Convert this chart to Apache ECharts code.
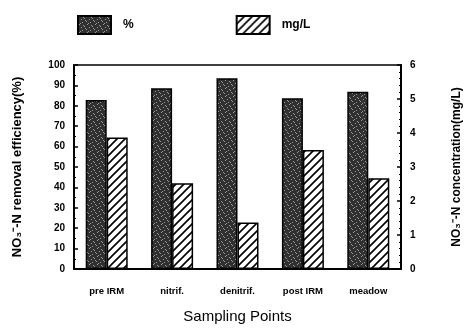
<!DOCTYPE html>
<html>
<head>
<meta charset="utf-8">
<title>NO3-N removal</title>
<script src="https://cdn.jsdelivr.net/npm/echarts@6/dist/echarts.min.js"></script>
<style>
  html, body { margin: 0; padding: 0; background: #fff; }
  #main { width: 471px; height: 333px; }
</style>
</head>
<body>
<div id="main"></div>
<script>
// data
var points = ['pre IRM', 'nitrif.', 'denitrif.', 'post IRM', 'meadow'];
var efficiency = [82.8, 88.6, 93.5, 83.7, 86.9];   // %
var concentration = [3.87, 2.52, 1.37, 3.5, 2.67]; // mg/L
var leftTicks = { min: 0, max: 100, interval: 10 };
var rightTicks = { min: 0, max: 6, interval: 1 };

// stippled dark fill
function stipple() {
  var c = document.createElement('canvas');
  c.width = 8; c.height = 8;
  var g = c.getContext('2d');
  g.fillStyle = '#303030';
  g.fillRect(0, 0, 8, 8);
  g.fillStyle = '#9a9a9a';
  var dots = [[1,0],[5,1],[3,3],[7,4],[0,5],[4,6],[2,7],[6,2]];
  dots.forEach(function (d) { g.fillRect(d[0], d[1], 1, 1); });
  return c;
}
// diagonal hatch fill
function hatch() {
  var c = document.createElement('canvas');
  c.width = 8; c.height = 8;
  var g = c.getContext('2d');
  g.fillStyle = '#fff';
  g.fillRect(0, 0, 8, 8);
  g.strokeStyle = '#000';
  g.lineWidth = 1.6;
  g.beginPath();
  g.moveTo(-2, 10); g.lineTo(10, -2);
  g.moveTo(-2, 2); g.lineTo(2, -2);
  g.moveTo(6, 10); g.lineTo(10, 6);
  g.stroke();
  return c;
}

var font = 'Liberation Sans';
var myChart = echarts.init(document.getElementById('main'));

var option = {
  animation: false,
  textStyle: { fontFamily: font, color: '#000' },
  grid: {
    left: 74, right: 69, top: 65, bottom: 64,
    show: true, borderColor: '#000', borderWidth: 1.5
  },
  legend: {
    top: 10, left: 72,
    icon: 'rect',
    itemWidth: 33, itemHeight: 18, itemGap: 102,
    textStyle: { fontFamily: font, fontWeight: 'bold', fontSize: 12, color: '#000', padding: [0, 0, 0, 7] },
    data: ['%', 'mg/L']
  },
  xAxis: {
    type: 'category',
    data: points,
    name: 'Sampling Points',
    nameLocation: 'middle',
    nameGap: 40,
    nameTextStyle: { fontFamily: font, fontSize: 15, color: '#000' },
    axisLine: { lineStyle: { color: '#000', width: 2 } },
    axisTick: { show: false },
    axisLabel: { fontFamily: font, fontWeight: 'bold', fontSize: 9.5, color: '#000', margin: 17 }
  },
  yAxis: [{
    type: 'value',
    min: leftTicks.min, max: leftTicks.max, interval: leftTicks.interval,
    name: 'NO\u2083\u207B-N removal efficiency(%)',
    nameLocation: 'middle',
    nameGap: 50,
    nameTextStyle: { fontFamily: font, fontWeight: 'bold', fontSize: 13, color: '#000' },
    axisLine: { show: true, lineStyle: { color: '#000', width: 2 } },
    axisTick: { show: true, inside: true, length: 4, lineStyle: { color: '#000', width: 1.5 } },
    minorTick: { show: true, splitNumber: 2, length: 2, lineStyle: { color: '#000' } },
    splitLine: { show: false },
    axisLabel: { fontFamily: font, fontWeight: 'bold', fontSize: 10, color: '#000', margin: 9 }
  }, {
    type: 'value',
    position: 'right',
    min: rightTicks.min, max: rightTicks.max, interval: rightTicks.interval,
    name: 'NO\u2083\u207B-N concentration(mg/L)',
    nameLocation: 'middle',
    nameGap: 50,
    nameRotate: 90,
    nameTextStyle: { fontFamily: font, fontWeight: 'bold', fontSize: 12, color: '#000' },
    axisLine: { show: true, lineStyle: { color: '#000', width: 2 } },
    axisTick: { show: true, inside: true, length: 4, lineStyle: { color: '#000', width: 1.5 } },
    minorTick: { show: true, splitNumber: 5, length: 2, lineStyle: { color: '#000' } },
    splitLine: { show: false },
    axisLabel: { fontFamily: font, fontWeight: 'bold', fontSize: 10, color: '#000', margin: 9 }
  }],
  series: [{
    name: '%',
    type: 'bar',
    yAxisIndex: 0,
    barWidth: 21,
    barGap: '0%',
    itemStyle: { color: { image: stipple(), repeat: 'repeat' }, borderColor: '#000', borderWidth: 1.5 },
    data: efficiency
  }, {
    name: 'mg/L',
    type: 'bar',
    yAxisIndex: 1,
    barWidth: 21,
    itemStyle: { color: { image: hatch(), repeat: 'repeat' }, borderColor: '#000', borderWidth: 1.5 },
    data: concentration
  }]
};
myChart.setOption(option);
</script>
</body>
</html>
